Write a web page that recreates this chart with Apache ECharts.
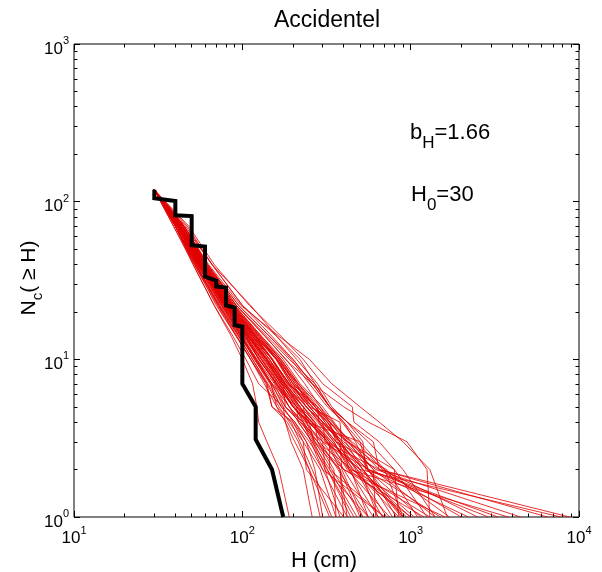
<!DOCTYPE html>
<html>
<head>
<meta charset="utf-8">
<script src="https://cdn.jsdelivr.net/npm/echarts@6/dist/echarts.min.js"></script>
<style>
  html, body { margin: 0; padding: 0; background: #fff; }
  #chart { width: 602px; height: 572px; }
</style>
</head>
<body>
<div id="chart"></div>
<script>
// Observed cumulative count N_c(>=H) against event height H (cm)
const obsH = [30, 30, 40, 40, 50, 50, 60, 60, 70, 70, 80, 80, 90, 90, 100, 100, 120, 120, 150, 175];
const obsN = [119, 105, 101, 82, 81, 53, 52, 33.5, 31.6, 29, 28.5, 22, 21.3, 16.5, 16.1, 7, 5, 3.1, 2, 1];

// Simulated catalogues: height H reached at each count level
const simLevels = [119, 70, 40, 22, 14, 10, 7, 5, 4, 3, 2, 1];
const simRuns = [
  [30, 41, 55, 78, 104, 125, 160, 200, 250, 265, 380, 400],
  [30, 43, 58, 84, 118, 150, 190, 250, 300, 380, 520, 900],
  [30, 40, 53, 72, 95, 115, 140, 150, 200, 230, 240, 400],
  [30, 42, 57, 80, 108, 135, 175, 230, 270, 280, 450, 1300],
  [30, 44, 60, 88, 125, 160, 215, 290, 330, 420, 600, 620],
  [30, 39, 51, 68, 88, 105, 125, 175, 180, 205, 250, 330],
  [30, 41, 56, 82, 112, 140, 168, 200, 250, 310, 650, 8800],
  [30, 45, 62, 92, 140, 190, 270, 330, 420, 520, 540, 1500],
  [30, 42, 56, 79, 100, 120, 150, 210, 215, 260, 330, 480],
  [30, 43, 59, 86, 120, 150, 185, 280, 285, 360, 560, 2200],
  [30, 40, 54, 76, 98, 122, 155, 180, 230, 280, 350, 360],
  [30, 48, 68, 110, 170, 230, 300, 450, 460, 650, 900, 1400],
  [30, 41, 55, 77, 99, 118, 148, 160, 195, 220, 260, 340],
  [30, 42, 58, 83, 115, 145, 180, 230, 265, 330, 420, 750],
  [30, 44, 61, 90, 130, 175, 220, 300, 350, 430, 560, 3300],
  [30, 40, 52, 70, 92, 112, 138, 150, 185, 215, 250, 290],
  [30, 43, 57, 81, 110, 138, 170, 220, 255, 340, 480, 1000],
  [30, 41, 56, 80, 106, 130, 165, 200, 240, 290, 370, 560],
  [30, 47, 66, 112, 160, 210, 280, 340, 420, 560, 800, 1250],
  [30, 42, 57, 82, 114, 150, 178, 240, 290, 400, 620, 4500],
  [30, 39, 52, 73, 95, 115, 142, 170, 205, 250, 320, 440],
  [30, 44, 60, 87, 122, 160, 200, 270, 310, 380, 470, 680],
  [30, 41, 55, 79, 108, 140, 172, 210, 260, 320, 400, 600],
  [30, 43, 59, 85, 116, 150, 190, 250, 300, 420, 700, 1700],
  [30, 40, 53, 74, 97, 120, 150, 190, 215, 260, 310, 380],
  [30, 46, 66, 100, 160, 220, 270, 330, 400, 470, 560, 820],
  [30, 42, 56, 80, 106, 125, 160, 190, 230, 270, 340, 520],
  [30, 43, 58, 84, 120, 160, 195, 260, 310, 370, 450, 950],
  [30, 41, 54, 76, 102, 130, 158, 200, 235, 300, 400, 1200],
  [30, 44, 62, 95, 145, 200, 260, 330, 390, 480, 680, 2500],
  [30, 40, 53, 72, 93, 112, 140, 165, 190, 230, 290, 360],
  [30, 42, 57, 83, 115, 150, 185, 240, 285, 350, 430, 640],
  [30, 43, 60, 88, 126, 165, 210, 270, 320, 380, 520, 780],
  [30, 41, 55, 78, 104, 130, 162, 200, 245, 330, 500, 1050],
  [30, 45, 63, 98, 165, 250, 340, 500, 650, 900, 1300, 1650],
  [30, 44, 61, 92, 137, 180, 260, 400, 560, 950, 1250, 1300],
  [30, 42, 58, 85, 118, 160, 200, 280, 330, 450, 650, 6500],
  [30, 41, 54, 75, 98, 118, 146, 170, 205, 240, 300, 420],
  [30, 43, 59, 86, 122, 165, 205, 270, 330, 410, 520, 880],
  [30, 40, 51, 68, 86, 100, 115, 122, 125, 140, 165, 190],
  [30, 44, 60, 89, 130, 170, 215, 280, 340, 440, 600, 1400],
  [30, 42, 56, 81, 110, 140, 176, 220, 270, 340, 460, 850],
  [30, 41, 56, 80, 105, 132, 165, 210, 250, 320, 430, 3800],
  [30, 43, 58, 84, 118, 152, 188, 240, 290, 360, 480, 720],
  [30, 40, 53, 73, 96, 120, 148, 180, 220, 280, 380, 500],
  [30, 42, 57, 82, 112, 145, 182, 230, 280, 350, 440, 560],
  [30, 45, 62, 95, 145, 195, 250, 320, 400, 500, 700, 900],
  [30, 41, 55, 78, 103, 127, 157, 190, 225, 265, 320, 460],
  [30, 44, 59, 87, 124, 165, 205, 260, 320, 390, 550, 1150],
  [30, 42, 58, 84, 120, 158, 194, 250, 300, 380, 500, 7800],
  [30, 41, 56, 79, 107, 134, 170, 215, 260, 330, 330, 700],
  [30, 43, 57, 82, 113, 145, 175, 180, 220, 300, 310, 560],
  [30, 40, 52, 71, 92, 112, 135, 160, 180, 195, 230, 260],
  [30, 44, 61, 90, 128, 168, 210, 250, 380, 390, 430, 1000],
  [30, 42, 57, 81, 109, 138, 172, 230, 240, 500, 560, 900],
  [30, 41, 55, 77, 101, 126, 160, 205, 230, 255, 300, 700],
  [30, 45, 66, 100, 150, 200, 260, 330, 420, 600, 650, 2000],
  [30, 42, 56, 80, 108, 140, 180, 220, 250, 320, 380, 420],
  [30, 43, 59, 86, 121, 162, 200, 240, 300, 310, 500, 640],
  [30, 40, 54, 75, 100, 122, 150, 175, 200, 240, 270, 300],
  [30, 44, 60, 88, 127, 170, 215, 270, 330, 360, 720, 1100],
  [30, 41, 56, 80, 108, 136, 165, 210, 240, 270, 400, 1600],
  [30, 43, 58, 83, 116, 150, 190, 260, 320, 380, 390, 520],
  [30, 42, 57, 82, 111, 142, 178, 215, 260, 300, 560, 2900],
  [30, 45, 62, 92, 136, 182, 235, 290, 345, 420, 800, 850]
];

// Decade exponents for the labelled ticks, and the in-between minor tick values
const xDecades = [1, 2, 3, 4];
const yDecades = [0, 1, 2, 3];
const xMinor = [20, 30, 40, 50, 60, 70, 80, 90, 200, 300, 400, 500, 600, 700, 800, 900,
                2000, 3000, 4000, 5000, 6000, 7000, 8000, 9000];
const yMinor = [2, 3, 4, 5, 6, 7, 8, 9, 20, 30, 40, 50, 60, 70, 80, 90, 200, 300, 400, 500, 600, 700, 800, 900];

const FONT = '"Liberation Sans", Arial, Helvetica, sans-serif';
const chart = echarts.init(document.getElementById('chart'), null, { renderer: 'canvas', width: 602, height: 572 });

// "10" with a raised exponent
const powLabel = {
  b: { fontSize: 17, fontFamily: FONT, color: '#000', lineHeight: 17, padding: [5, 0, 5, 0], verticalAlign: 'top' },
  e: { fontSize: 11, fontFamily: FONT, color: '#000', lineHeight: 11, padding: [0, 0, 16, 0], verticalAlign: 'top' }
};
const fmtPow = v => '{b|10}{e|' + Math.round(v) + '}';

// Tick-only helper axis in log10 space, same pixel mapping as the data axis
function tickAxis(pos, decades, len, custom, margin) {
  const ax = {
    type: 'value', min: decades[0], max: decades[decades.length - 1], position: pos,
    axisLine: { show: false, onZero: false },
    axisTick: { show: true, inside: true, length: len, lineStyle: { color: '#000', width: 1 } },
    splitLine: { show: false },
    axisLabel: { show: false }
  };
  if (custom) {
    ax.axisTick.customValues = custom;
  } else {
    ax.interval = 1;
  }
  if (margin !== undefined) {
    ax.axisLabel = { show: true, formatter: fmtPow, rich: powLabel, margin: margin };
  }
  return ax;
}

const xMinorExp = xMinor.map(v => Math.log10(v));
const yMinorExp = yMinor.map(v => Math.log10(v));
const dataAxis = (lo, hi) => ({
  type: 'log', logBase: 10, min: lo, max: hi,
  axisLine: { show: false, onZero: false }, axisTick: { show: false },
  axisLabel: { show: false }, splitLine: { show: false }
});

const series = simRuns.map(run => ({
  type: 'line', xAxisIndex: 0, yAxisIndex: 0,
  data: run.map((h, i) => [h, simLevels[i]]),
  symbol: 'none', silent: true, z: 2,
  lineStyle: { color: 'rgba(225,0,0,0.8)', width: 1 }
}));
series.push({
  type: 'line', xAxisIndex: 0, yAxisIndex: 0,
  data: obsH.map((h, i) => [h, obsN[i]]),
  symbol: 'none', silent: true, z: 3,
  lineStyle: { color: '#000', width: 4, join: 'miter' }
});

const sub = (size, drop) => ({ fontSize: size, fontFamily: FONT, color: '#000', lineHeight: size, padding: [drop, 0, 0, 0], verticalAlign: 'top' });
const main = size => ({ fontSize: size, fontFamily: FONT, color: '#000', lineHeight: size + 2, verticalAlign: 'top' });

chart.setOption({
  animation: false,
  backgroundColor: '#fff',
  grid: { left: 74, right: 23, top: 44, bottom: 55, show: true, borderColor: '#000', borderWidth: 1, backgroundColor: 'transparent' },
  xAxis: [
    dataAxis(10, 10000),
    tickAxis('bottom', xDecades, 6, null, 8),
    tickAxis('bottom', xDecades, 3.5, xMinorExp),
    tickAxis('top', xDecades, 6, null),
    tickAxis('top', xDecades, 3.5, xMinorExp)
  ],
  yAxis: [
    dataAxis(1, 1000),
    tickAxis('left', yDecades, 6, null, 5),
    tickAxis('left', yDecades, 3.5, yMinorExp),
    tickAxis('right', yDecades, 6, null),
    tickAxis('right', yDecades, 3.5, yMinorExp)
  ],
  series: series,
  graphic: [
    { type: 'text', x: 327, y: 21, style: { text: 'Accidentel', font: '23px ' + FONT, fill: '#000', align: 'center', verticalAlign: 'middle' } },
    { type: 'text', x: 324, y: 561, style: { text: 'H (cm)', font: '22px ' + FONT, fill: '#000', align: 'center', verticalAlign: 'middle' } },
    { type: 'text', x: 30, y: 278, rotation: Math.PI / 2,
      style: { text: '{m|N}{s|c}{m|( \u2265 H)}', align: 'center', verticalAlign: 'middle',
               rich: { m: main(21), s: sub(15, 12) } } },
    { type: 'text', x: 410, y: 122,
      style: { text: '{m|b}{s|H}{m|=1.66}', align: 'left', verticalAlign: 'top',
               rich: { m: main(22), s: sub(17, 13) } } },
    { type: 'text', x: 411, y: 184,
      style: { text: '{m|H}{s|0}{m|=30}', align: 'left', verticalAlign: 'top',
               rich: { m: main(22), s: sub(17, 13) } } }
  ]
});
</script>
</body>
</html>
